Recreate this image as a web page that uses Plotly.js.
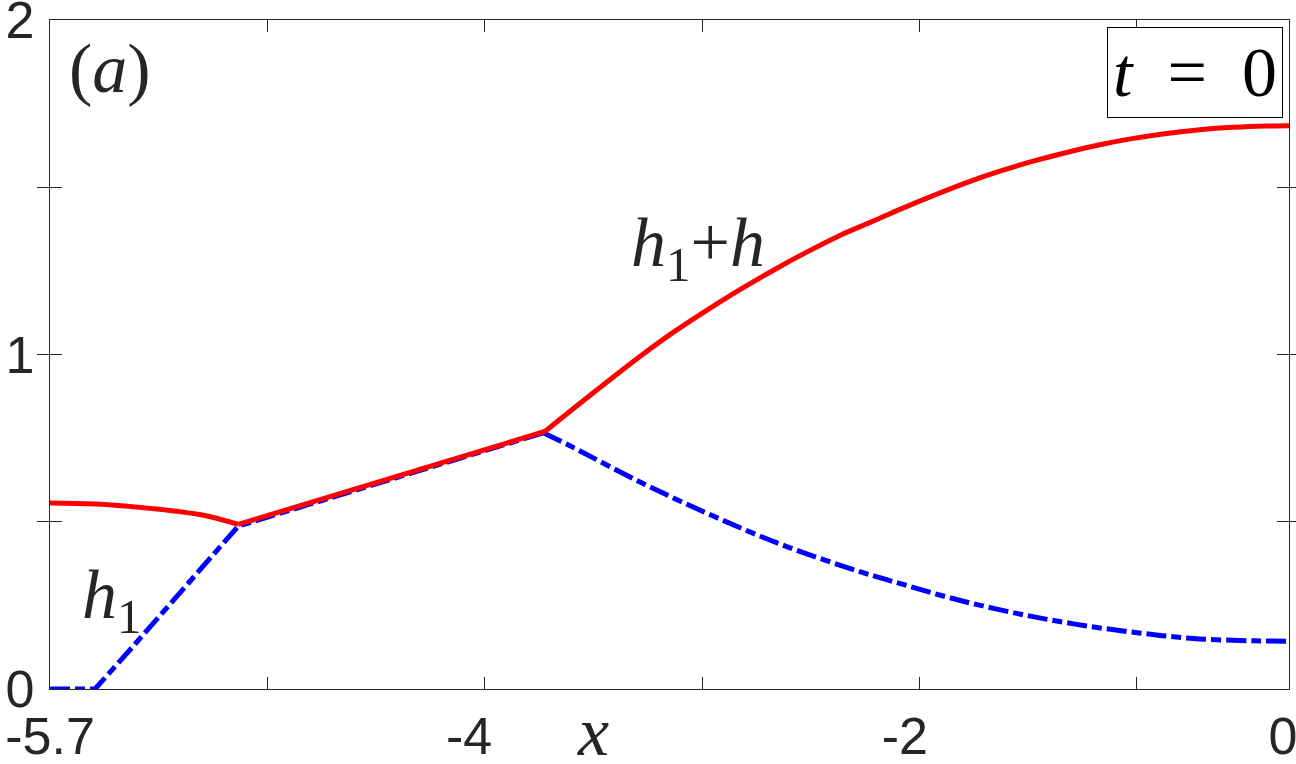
<!DOCTYPE html>
<html>
<head>
<meta charset="utf-8">
<script src="https://cdn.plot.ly/plotly-3.0.1.min.js"></script>
<style>
html,body{margin:0;padding:0;background:#fff;}
#chart{width:1296px;height:764px;}
</style>
</head>
<body>
<div id="chart"></div>
<script>
// h1 + h (solid red)
const redX = [-5.7, -5.49, -5.24, -5.0, -4.834, -4.136, -3.423, -3.293, -3.139, -2.986, -2.833, -2.679, -2.526, -2.372, -2.219, -2.066, -1.912, -1.790, -1.637, -1.483, -1.330, -1.177, -1.023, -0.870, -0.716, -0.563, -0.410, -0.256, -0.102, 0];
const redY = [0.556, 0.553, 0.540, 0.520, 0.492, 0.631, 0.770, 0.838, 0.917, 0.994, 1.066, 1.132, 1.194, 1.252, 1.306, 1.356, 1.399, 1.434, 1.475, 1.514, 1.548, 1.578, 1.604, 1.627, 1.646, 1.661, 1.672, 1.679, 1.683, 1.684];
// h1 (dash-dot blue)
const blueX = [-5.7, -5.493, -5.317, -4.834, -4.136, -3.431, -3.308, -2.983, -2.649, -2.308, -1.960, -1.767, -1.521, -1.253, -0.985, -0.709, -0.440, -0.157, 0];
const blueY = [0, 0, 0.128, 0.487, 0.626, 0.766, 0.727, 0.618, 0.517, 0.425, 0.348, 0.311, 0.266, 0.226, 0.194, 0.169, 0.151, 0.144, 0.143];

const xTickVals = [-5.7, -4.7, -3.7, -2.7, -1.7, -0.7, 0];
const xLabelPos = [-5.7, -3.772, -1.767, -0.028];
const xLabelText = ['-5.7', '-4', '-2', '0'];
const yTickVals = [0, 0.5, 1, 1.5, 2];
const yTickText = ['0', '', '1', '', '2'];

const axisColor = '#262626';
const tickFont = {family: 'Liberation Sans', size: 52, color: axisColor};
const serifFamily = 'Liberation Serif';
const mathFont = {family: serifFamily, size: 70, color: axisColor};

// corner indices (sharp kinks)
const redK1 = 4, redK2 = 6;
const blueK = 5;
const dashStyle = '20px,5px,10px,5px';
const lw = 5;

const traces = [
  {x: blueX.slice(0, blueK + 1), y: blueY.slice(0, blueK + 1), type: 'scatter', mode: 'lines',
   line: {color: '#0000ff', width: lw, dash: dashStyle}, hoverinfo: 'skip', showlegend: false},
  {x: blueX.slice(blueK), y: blueY.slice(blueK), type: 'scatter', mode: 'lines',
   line: {color: '#0000ff', width: lw, dash: dashStyle, shape: 'spline', smoothing: 1}, hoverinfo: 'skip', showlegend: false},
  {x: redX.slice(0, redK1 + 1), y: redY.slice(0, redK1 + 1), type: 'scatter', mode: 'lines',
   line: {color: '#ff0000', width: lw, shape: 'spline', smoothing: 1}, hoverinfo: 'skip', showlegend: false},
  {x: redX.slice(redK1, redK2 + 1), y: redY.slice(redK1, redK2 + 1), type: 'scatter', mode: 'lines',
   line: {color: '#ff0000', width: lw}, hoverinfo: 'skip', showlegend: false},
  {x: redX.slice(redK2), y: redY.slice(redK2), type: 'scatter', mode: 'lines', xaxis: 'x2',
   line: {color: '#ff0000', width: lw, shape: 'spline', smoothing: 1}, hoverinfo: 'skip', showlegend: false}
];

const layout = {
  width: 1296, height: 764,
  margin: {l: 50, r: 7, t: 20, b: 75},
  paper_bgcolor: '#ffffff', plot_bgcolor: '#ffffff',
  showlegend: false,
  xaxis: {
    range: [-5.7, 0], tickvals: xTickVals, ticktext: xTickVals.map(() => ''),
    ticks: 'inside', ticklen: 12, tickwidth: 1, tickcolor: axisColor,
    showline: true, linecolor: axisColor, linewidth: 1.2, mirror: 'allticks',
    showgrid: false, zeroline: false, fixedrange: true
  },
  xaxis2: {
    range: [-5.7, 0], overlaying: 'x', anchor: 'y', side: 'bottom',
    tickmode: 'array', tickvals: xLabelPos, ticktext: xLabelText, tickfont: tickFont,
    ticks: '', showline: false, showgrid: false, zeroline: false, ticklabelstandoff: 12,
    ticklabeloverflow: 'allow', fixedrange: true
  },
  yaxis: {
    range: [0, 2], tickvals: yTickVals, ticktext: yTickText, tickfont: tickFont,
    ticks: 'inside', ticklen: 12, tickwidth: 1, tickcolor: axisColor,
    showline: true, linecolor: axisColor, linewidth: 1.2, mirror: 'allticks',
    showgrid: false, zeroline: false, ticklabelstandoff: 4, ticklabeloverflow: 'allow', fixedrange: true
  },
  annotations: [
    {text: '(<i>a</i>)', xref: 'paper', yref: 'paper', x: 0.0484, y: 0.928, xanchor: 'center', yanchor: 'middle', showarrow: false, font: mathFont},
    {text: '<i>t</i>&nbsp;&nbsp;=&nbsp;&nbsp;0', xref: 'paper', yref: 'paper', x: 0.9952, y: 0.9895, xanchor: 'right', yanchor: 'top', showarrow: false,
     font: {family: serifFamily, size: 70, color: '#000000'}, bordercolor: '#000000', borderwidth: 1, borderpad: 0, width: 174, height: 89, bgcolor: '#ffffff'},
    {text: '<i>h</i><sub>1</sub>', xref: 'x', yref: 'y', x: -5.415, y: 0.266, xanchor: 'center', yanchor: 'middle', showarrow: false, font: mathFont},
    {text: '<i>h</i><sub>1</sub>+<i>h</i>', xref: 'x', yref: 'y', x: -2.719, y: 1.318, xanchor: 'center', yanchor: 'middle', showarrow: false, font: mathFont},
    {text: '<i>x</i>', xref: 'x', yref: 'paper', x: -3.202, y: -0.0628, xanchor: 'center', yanchor: 'middle', height: 50, showarrow: false, font: mathFont}
  ]
};

Plotly.newPlot('chart', traces, layout, {displayModeBar: false, staticPlot: true});
</script>
</body>
</html>
